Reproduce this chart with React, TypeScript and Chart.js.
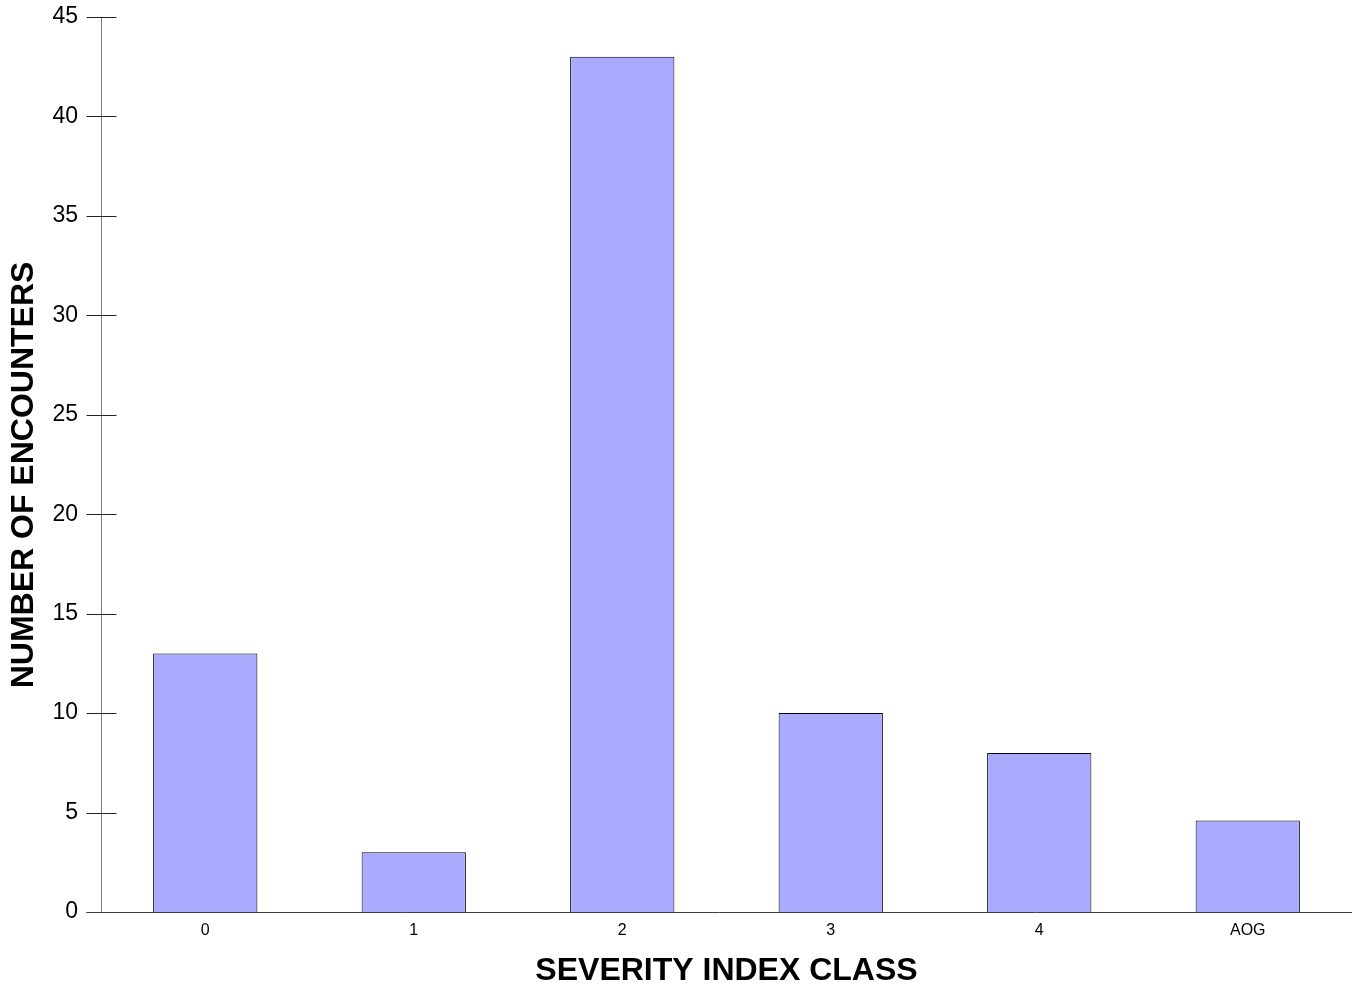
import React, { useEffect, useRef } from "react";
import { Chart, registerables } from "chart.js";

Chart.register(...registerables);

const categories = ["0", "1", "2", "3", "4", "AOG"];
const encounters = [13, 3, 43, 10, 8, 4.6];
const yTicks = [0, 5, 10, 15, 20, 25, 30, 35, 40, 45];
const xTitle = "SEVERITY INDEX CLASS";
const yTitle = "NUMBER OF ENCOUNTERS";

const FONT = '"Liberation Sans", Arial, Helvetica, sans-serif';

const axesPlugin = {
  id: "customAxes",
  afterDatasetsDraw(chart: any) {
    const { ctx, chartArea, scales } = chart;
    const y = scales.y;
    const left = Math.round(chartArea.left) + 0.5;
    const bottom = Math.round(chartArea.bottom) + 0.5;
    ctx.save();
    ctx.lineWidth = 1;
    // y axis line
    ctx.strokeStyle = "#808080";
    ctx.beginPath();
    ctx.moveTo(left, Math.round(y.getPixelForValue(45)) + 0.5);
    ctx.lineTo(left, bottom);
    ctx.stroke();
    // y ticks crossing the axis
    ctx.strokeStyle = "#222222";
    yTicks.forEach((v) => {
      const py = Math.round(y.getPixelForValue(v)) + 0.5;
      ctx.beginPath();
      ctx.moveTo(left - 15, py);
      ctx.lineTo(left + 15, py);
      ctx.stroke();
    });
    // x axis line
    ctx.strokeStyle = "#404040";
    ctx.beginPath();
    ctx.moveTo(left - 15, bottom);
    ctx.lineTo(chartArea.right, bottom);
    ctx.stroke();
    // titles
    ctx.fillStyle = "#000";
    ctx.font = `bold 32px ${FONT}`;
    ctx.textAlign = "center";
    ctx.textBaseline = "middle";
    ctx.fillText(xTitle, (chartArea.left + chartArea.right) / 2, 971);
    ctx.translate(24, 475);
    ctx.rotate(-Math.PI / 2);
    ctx.fillText(yTitle, 0, 0);
    ctx.restore();
  },
};

export default function App() {
  const ref = useRef<HTMLCanvasElement>(null);
  useEffect(() => {
    if (!ref.current) return;
    const chart = new Chart(ref.current, {
      type: "bar",
      data: {
        labels: categories,
        datasets: [
          {
            data: encounters,
            backgroundColor: "#AAAAFF",
            borderColor: "#000000",
            borderWidth: 1,
            categoryPercentage: 0.5,
            barPercentage: 1,
          },
        ],
      },
      options: {
        responsive: false,
        animation: false,
        devicePixelRatio: 1,
        layout: { padding: { top: 17, right: 9, left: 0, bottom: 0 } },
        plugins: {
          legend: { display: false },
          tooltip: { enabled: false },
        },
        scales: {
          x: {
            grid: { display: false, drawTicks: false },
            border: { display: false },
            ticks: {
              color: "#000",
              font: { family: FONT, size: 16 },
              padding: 9,
            },
            afterFit: (s: any) => {
              s.height = 78;
              s.paddingLeft = 0;
              s.paddingRight = 0;
            },
          },
          y: {
            min: 0,
            max: 45,
            grid: { display: false, drawTicks: false },
            border: { display: false },
            afterBuildTicks: (s: any) => {
              s.ticks = yTicks.map((v) => ({ value: v }));
            },
            ticks: {
              color: "#000",
              font: { family: FONT, size: 23 },
              padding: 23,
            },
            afterFit: (s: any) => {
              s.width = 101;
              s.paddingTop = 0;
              s.paddingBottom = 0;
            },
          },
        },
      },
      plugins: [axesPlugin],
    });
    return () => chart.destroy();
  }, []);
  return (
    <canvas
      ref={ref}
      width={1361}
      height={990}
      style={{ position: "absolute", left: 0, top: 0, display: "block" }}
    />
  );
}
